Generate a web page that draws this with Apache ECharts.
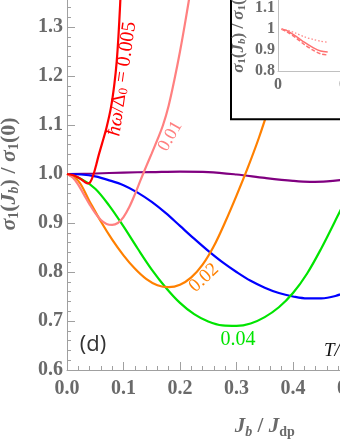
<!DOCTYPE html>
<html>
<head>
<meta charset="utf-8">
<script src="https://cdn.jsdelivr.net/npm/echarts@6/dist/echarts.min.js"></script>
<style>
html,body{margin:0;padding:0;background:#fff;}
#chart{width:340px;height:440px;}
</style>
</head>
<body>
<div id="chart"></div>
<script>
// ---- data (x = Jb/Jdp, y = sigma1(Jb)/sigma1(0)) ----
var red = [[0,1.0],[0.01,0.998],[0.02,0.993],[0.03,0.985],[0.036,0.981],[0.04,0.982],[0.044,0.99],[0.048,1.003],[0.052,1.02],[0.056,1.038],[0.062,1.062],[0.07,1.095],[0.078,1.137],[0.084,1.185],[0.088,1.23],[0.091,1.28],[0.094,1.345],[0.097,1.42]];
var pink = [[0,1.0],[0.01,0.993],[0.02,0.978],[0.03,0.958],[0.04,0.938],[0.05,0.92],[0.06,0.906],[0.07,0.898],[0.08,0.896],[0.09,0.9],[0.1,0.912],[0.11,0.932],[0.12,0.958],[0.13,0.987],[0.14,1.015],[0.15,1.042],[0.16,1.07],[0.17,1.1],[0.18,1.14],[0.19,1.192],[0.2,1.25],[0.21,1.315],[0.22,1.385],[0.23,1.46]];
var orange = [[0,1.0],[0.02,0.986],[0.04,0.944],[0.06,0.903],[0.08,0.866],[0.1,0.834],[0.12,0.807],[0.14,0.786],[0.16,0.773],[0.18,0.769],[0.2,0.774],[0.22,0.789],[0.24,0.815],[0.26,0.853],[0.28,0.902],[0.3,0.956],[0.32,1.013],[0.34,1.075],[0.36,1.145],[0.38,1.22],[0.4,1.3],[0.42,1.39],[0.44,1.48]];
var green = [[0,1.0],[0.025,0.99],[0.05,0.97],[0.075,0.935],[0.1,0.893],[0.125,0.848],[0.15,0.805],[0.175,0.768],[0.2,0.737],[0.225,0.714],[0.25,0.699],[0.275,0.691],[0.3,0.69],[0.325,0.695],[0.35,0.708],[0.375,0.728],[0.4,0.757],[0.425,0.797],[0.45,0.848],[0.475,0.905],[0.5,0.965],[0.52,1.02]];
var blue = [[0,1.0],[0.025,0.999],[0.05,0.995],[0.075,0.987],[0.1,0.977],[0.125,0.962],[0.15,0.943],[0.175,0.92],[0.2,0.894],[0.225,0.868],[0.25,0.843],[0.275,0.82],[0.3,0.8],[0.325,0.782],[0.35,0.768],[0.375,0.757],[0.4,0.75],[0.425,0.746],[0.45,0.746],[0.475,0.751],[0.5,0.762],[0.52,0.775]];
var purple = [[0,1.0],[0.05,1.001],[0.1,1.003],[0.15,1.004],[0.2,1.005],[0.25,1.004],[0.3,0.999],[0.35,0.992],[0.4,0.986],[0.43,0.984],[0.46,0.985],[0.5,0.99],[0.52,0.994]];
// inset curves
var insetSolid = [[0.02,1.0],[0.05,0.992],[0.1,0.966],[0.15,0.936],[0.2,0.91],[0.24,0.895],[0.28,0.89]];
var insetDashed = [[0.02,0.998],[0.05,0.987],[0.1,0.958],[0.15,0.925],[0.2,0.898],[0.24,0.882],[0.28,0.876]];
var insetDotted = [[0.02,1.0],[0.05,0.995],[0.1,0.98],[0.15,0.962],[0.2,0.95],[0.24,0.942],[0.28,0.937]];
// label anchors (data coords)
var labelRed = [0.0975, 1.194];
var labelPink = [0.183, 1.077];
var labelOrange = [0.2425, 0.788];
var labelGreen = [0.3027, 0.661];

var SERIF = '"Liberation Serif", "DejaVu Serif", serif';
var GRAY = '#6a6a6a';

function mk(lbl, pos, color, rot, size, rich) {
  return {
    symbol: 'circle', symbolSize: 0.1, silent: true,
    itemStyle: {color: 'rgba(0,0,0,0)'},
    data: [{
      coord: pos,
      label: {
        show: true, position: 'inside', formatter: lbl, rotate: rot,
        color: color, fontFamily: SERIF, fontSize: size, rich: rich || {}
      }
    }]
  };
}
function line(data, color, extra) {
  var s = {
    type: 'line', data: data, showSymbol: false, smooth: 0.35,
    lineStyle: {color: color, width: 2.2}, itemStyle: {color: color},
    xAxisIndex: 0, yAxisIndex: 0, z: 3, animation: false
  };
  for (var k in extra) s[k] = extra[k];
  return s;
}

var chart = echarts.init(document.getElementById('chart'), null, {renderer: 'canvas'});
var axisCommon = {
  type: 'value',
  axisLine: {show: true, lineStyle: {color: '#a0a0a0', width: 1}},
  axisTick: {show: true, inside: true, length: 8, lineStyle: {color: '#a0a0a0'}},
  minorTick: {show: true, splitNumber: 5, length: 4, lineStyle: {color: '#a0a0a0'}},
  splitLine: {show: false},
  minorSplitLine: {show: false}
};
var option = {
  animation: false,
  backgroundColor: '#fff',
  grid: [
    {left: 67, top: -22, width: 395.5, height: 392, containLabel: false, outerBoundsMode: 'none'},
    {left: 278, top: -13, width: 142, height: 84, containLabel: false, outerBoundsMode: 'none'}
  ],
  xAxis: [
    Object.assign({}, axisCommon, {
      gridIndex: 0, min: 0, max: 0.7, interval: 0.1,
      axisLabel: {margin: 9, fontFamily: SERIF, fontWeight: 'bold', fontSize: 20, color: GRAY,
        formatter: function (v) { return v.toFixed(1); }},
      name: '{i|J}{si|b} / {i|J}{s|dp}',
      nameLocation: 'middle', nameGap: 45,
      nameTextStyle: {fontFamily: SERIF, fontWeight: 'bold', fontSize: 21, color: GRAY,
        rich: {
          i: {fontFamily: SERIF, fontWeight: 'bold', fontStyle: 'italic', fontSize: 21, color: GRAY, lineHeight: 24},
          si: {fontFamily: SERIF, fontWeight: 'bold', fontStyle: 'italic', fontSize: 14, color: GRAY, verticalAlign: 'bottom', lineHeight: 14},
          s: {fontFamily: SERIF, fontWeight: 'bold', fontSize: 14, color: GRAY, verticalAlign: 'bottom', lineHeight: 14}
        }}
    }),
    {
      gridIndex: 1, type: 'value', min: 0, max: 0.8, interval: 0.4, z: 120,
      axisLine: {show: true, lineStyle: {color: '#c0c0c0'}},
      axisTick: {show: false}, splitLine: {show: false},
      axisLabel: {margin: 6, fontFamily: SERIF, fontWeight: 'bold', fontSize: 16, color: GRAY,
        formatter: function (v) { return String(Math.round(v * 10) / 10); }}
    }
  ],
  yAxis: [
    Object.assign({}, axisCommon, {
      gridIndex: 0, min: 0.6, max: 1.4, interval: 0.1,
      axisLabel: {margin: 4, fontFamily: SERIF, fontWeight: 'bold', fontSize: 20, color: GRAY,
        formatter: function (v) { return v.toFixed(1); }},
      name: '{i|σ}{s|1}({i|J}{si|b}) / {i|σ}{s|1}(0)',
      nameLocation: 'middle', nameRotate: 90, nameGap: 46,
      nameTextStyle: {fontFamily: SERIF, fontWeight: 'bold', fontSize: 22, color: GRAY,
        rich: {
          i: {fontFamily: SERIF, fontWeight: 'bold', fontStyle: 'italic', fontSize: 22, color: GRAY, lineHeight: 24},
          si: {fontFamily: SERIF, fontWeight: 'bold', fontStyle: 'italic', fontSize: 14, color: GRAY, verticalAlign: 'bottom', lineHeight: 14},
          s: {fontFamily: SERIF, fontWeight: 'bold', fontSize: 14, color: GRAY, verticalAlign: 'bottom', lineHeight: 14}
        }}
    }),
    {
      gridIndex: 1, type: 'value', min: 0.8, max: 1.2, interval: 0.1, z: 120,
      axisLine: {show: true, lineStyle: {color: '#c0c0c0'}},
      axisTick: {show: false}, splitLine: {show: false},
      axisLabel: {margin: 3, fontFamily: SERIF, fontWeight: 'bold', fontSize: 16, color: GRAY,
        formatter: function (v) { return String(Math.round(v * 10) / 10); }},
      name: '{i|σ}{s|1}({i|J}{si|b}) / {i|σ}{s|1}(0)',
      nameLocation: 'middle', nameRotate: 90, nameGap: 30,
      nameTextStyle: {fontFamily: SERIF, fontWeight: 'bold', fontSize: 17, color: GRAY,
        rich: {
          i: {fontFamily: SERIF, fontWeight: 'bold', fontStyle: 'italic', fontSize: 17, color: GRAY, lineHeight: 19},
          si: {fontFamily: SERIF, fontWeight: 'bold', fontStyle: 'italic', fontSize: 11, color: GRAY, verticalAlign: 'bottom', lineHeight: 11},
          s: {fontFamily: SERIF, fontWeight: 'bold', fontSize: 11, color: GRAY, verticalAlign: 'bottom', lineHeight: 11}
        }}
    }
  ],
  graphic: [
    {type: 'rect', z: 100, shape: {x: 231, y: -10, width: 130, height: 129.3},
      style: {fill: '#fff', stroke: '#000', lineWidth: 2}},
    {type: 'text', z: 10, x: 93, y: 345,
      style: {text: '(d)', fill: '#333', font: '22px "Open Sans", "DejaVu Sans", sans-serif',
        textAlign: 'center', textVerticalAlign: 'middle'}},
    {type: 'text', z: 10, x: 324, y: 351,
      style: {text: 'T/T', fill: '#111', font: 'italic 19px "Liberation Serif", serif',
        textAlign: 'left', textVerticalAlign: 'middle'}}
  ],
  series: [
    line(purple, '#800080'),
    line(blue, '#0000ff'),
    line(green, '#00e400', {markPoint: mk('0.04', labelGreen, '#00e400', 0, 20)}),
    line(orange, '#ff8000', {markPoint: mk('0.02', labelOrange, '#ff8000', 43, 19)}),
    line(pink, '#ff8080', {markPoint: mk('0.01', labelPink, '#ff8080', 60, 18)}),
    line(red, '#ff0000', {markPoint: mk('{i|ħω}/Δ{s|0} = 0.005', labelRed, '#ff0000', 82, 20,
      {i: {fontStyle: 'italic', fontFamily: SERIF, fontSize: 20, color: '#ff0000'},
       s: {fontFamily: SERIF, fontSize: 13, color: '#ff0000', verticalAlign: 'bottom', lineHeight: 13}})}),
    {type: 'line', xAxisIndex: 1, yAxisIndex: 1, data: insetSolid, showSymbol: false, smooth: 0.3, z: 120,
      lineStyle: {color: '#ff7070', width: 1.5}},
    {type: 'line', xAxisIndex: 1, yAxisIndex: 1, data: insetDashed, showSymbol: false, smooth: 0.3, z: 120,
      lineStyle: {color: '#ff7070', width: 1.5, type: [4, 2]}},
    {type: 'line', xAxisIndex: 1, yAxisIndex: 1, data: insetDotted, showSymbol: false, smooth: 0.3, z: 120,
      lineStyle: {color: '#ff8a8a', width: 1.3, type: [1.5, 2]}}
  ]
};
chart.setOption(option);
</script>
</body>
</html>
